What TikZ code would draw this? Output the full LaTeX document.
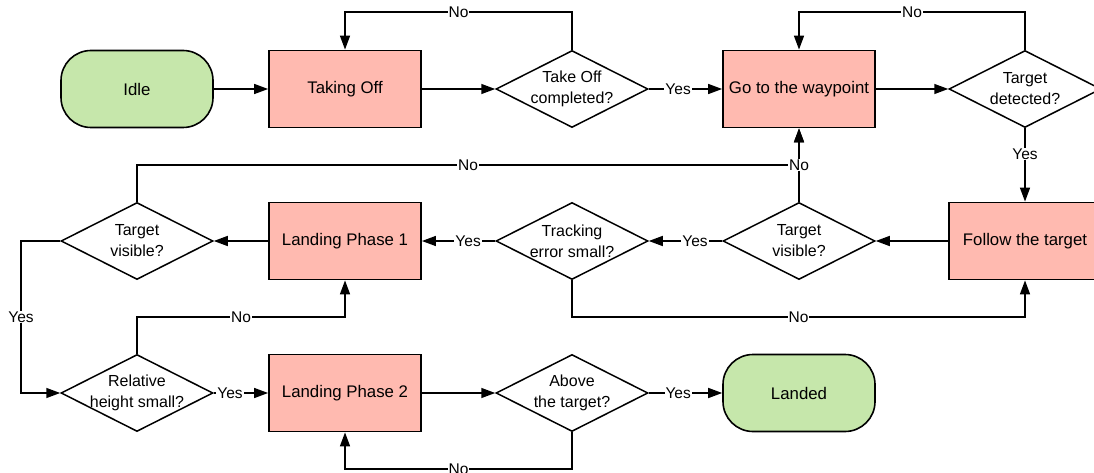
\documentclass[tikz,border=0pt]{standalone}
\usepackage{fontspec}
\setmainfont{Liberation Sans}
\usetikzlibrary{shapes.geometric,arrows.meta}
\definecolor{termgreen}{RGB}{198,231,171}
\definecolor{procred}{RGB}{255,186,176}
\begin{document}
\begin{tikzpicture}[x=1pt,y=-1pt,
 proc/.style={draw, line width=1.8pt, fill=procred, minimum width=152pt, minimum height=77pt, inner sep=0pt, font=\fontsize{16.8}{20}\selectfont},
 term/.style={draw, line width=1.6pt, fill=termgreen, rounded corners=30pt, minimum width=152pt, minimum height=77pt, inner sep=0pt, font=\fontsize{16.8}{20}\selectfont},
 dec/.style={draw, diamond, line width=1.5pt, fill=white, aspect=1.97, minimum width=152pt, minimum height=77pt, inner sep=0pt},
 dtext/.style={align=center, font=\fontsize{16}{21}\selectfont},
 flow/.style={line width=1.5pt, -{Triangle[length=14pt,width=10pt]}},
 lab/.style={fill=white, inner sep=1pt, font=\fontsize{15.5}{18}\selectfont}
]
\useasboundingbox (0,0) rectangle (1094,473);
% guide levels
\coordinate (ytop) at (0,12);
\coordinate (ymid) at (0,165);
\coordinate (ylow) at (0,317);
\coordinate (ybot) at (0,469);
\coordinate (xleft) at (21,0);
% row 1
\node[term] (idle) at (137,89) {Idle};
\node[proc] (toff) at (345,89) {Taking Off};
\node[dec, label={[dtext]center:{Take Off\\completed?}}] (dtoc) at (572,89) {};
\node[proc] (wp) at (799,89) {Go to the waypoint};
\node[dec, label={[dtext]center:{Target\\detected?}}] (dtd) at (1025,89) {};
% row 2
\node[dec, label={[dtext]center:{Target\\visible?}}] (tv1) at (137,241) {};
\node[proc] (lp1) at (345,241) {Landing Phase 1};
\node[dec, label={[dtext]center:{Tracking\\error small?}}] (track) at (572,241) {};
\node[dec, label={[dtext]center:{Target\\visible?}}] (tv2) at (799,241) {};
\node[proc] (follow) at (1025,241) {Follow the target};
% row 3
\node[dec, label={[dtext]center:{Relative\\height small?}}] (rel) at (137,393) {};
\node[proc] (lp2) at (345,393) {Landing Phase 2};
\node[dec, label={[dtext]center:{Above\\the target?}}] (above) at (572,393) {};
\node[term] (landed) at (799,393) {Landed};
% connectors
\draw[flow] (idle) -- (toff);
\draw[flow] (toff) -- (dtoc);
\draw[flow] (dtoc) -- node[lab, pos=0.4] {Yes} (wp);
\draw[flow] (dtoc.north) -- (dtoc.north |- ytop) -- node[lab] {No} (toff.north |- ytop) -- (toff.north);
\draw[flow] (wp) -- (dtd);
\draw[flow] (dtd.north) -- (dtd.north |- ytop) -- node[lab] {No} (wp.north |- ytop) -- (wp.north);
\draw[flow] (dtd.south) -- node[lab, pos=0.35] {Yes} (follow.north);
\draw[flow] (follow.west) -- (tv2.east);
\draw[flow] (tv1.north) -- (tv1.north |- ymid) -- node[lab] {No} (wp.south |- ymid) -- (wp.south);
\draw[flow] (tv2.north) -- node[lab] {No} (wp.south);
\draw[flow] (tv2.west) -- node[lab, pos=0.37] {Yes} (track.east);
\draw[flow] (track.west) -- node[lab, pos=0.37] {Yes} (lp1.east);
\draw[flow] (track.south) -- (track.south |- ylow) -- node[lab] {No} (follow.south |- ylow) -- (follow.south);
\draw[flow] (lp1.west) -- (tv1.east);
\draw[flow] (tv1.west) -- (xleft |- tv1.west) -- node[lab] {Yes} (xleft |- rel.west) -- (rel.west);
\draw[flow] (rel.north) -- (rel.north |- ylow) -- node[lab] {No} (lp1.south |- ylow) -- (lp1.south);
\draw[flow] (rel.east) -- node[lab, pos=0.3] {Yes} (lp2.west);
\draw[flow] (lp2) -- (above);
\draw[flow] (above) -- node[lab, pos=0.4] {Yes} (landed);
\draw[flow] (above.south) -- (above.south |- ybot) -- node[lab] {No} (lp2.south |- ybot) -- (lp2.south);
\end{tikzpicture}
\end{document}
